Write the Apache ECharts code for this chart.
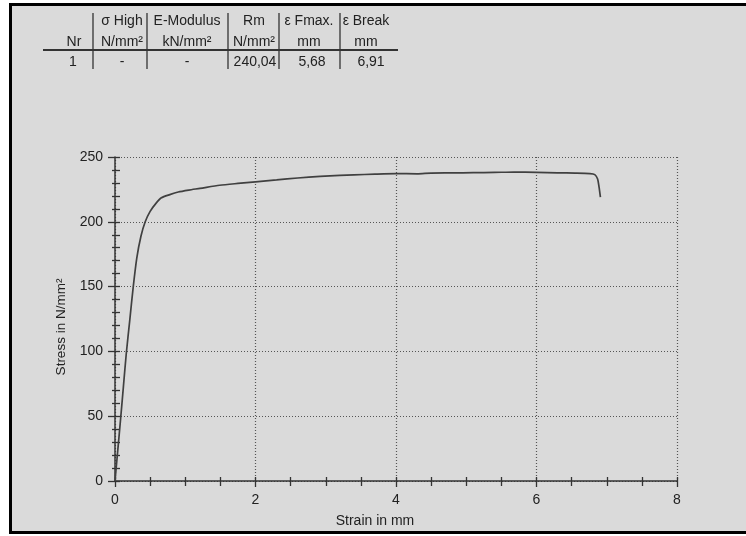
<!DOCTYPE html>
<html>
<head>
<meta charset="utf-8">
<script src="https://cdn.jsdelivr.net/npm/echarts@6/dist/echarts.min.js"></script>
<style>
  html, body { margin: 0; padding: 0; background: #ffffff; }
  #frame { position: absolute; left: 9px; top: 3px; width: 760px; height: 525px;
           border: 3px solid #000; border-right: none; background: #dadada; }
  #chart { position: absolute; left: 0; top: 0; width: 746px; height: 536px; }
</style>
</head>
<body>
<div id="frame"></div>
<div id="chart"></div>
<script>
// ---- data ----
const strain = [0, 0.04, 0.08, 0.12, 0.16, 0.21, 0.26, 0.31, 0.37, 0.43, 0.50, 0.58, 0.66, 0.78, 0.90,
  1.05, 1.21, 1.49, 1.75, 2.00, 2.30, 2.60, 2.92, 3.20, 3.40, 3.70, 4.00, 4.30, 4.50, 4.80,
  5.10, 5.40, 5.68, 6.00, 6.30, 6.55, 6.76, 6.83, 6.87, 6.89, 6.91];
const stress = [0, 24, 48, 73, 98, 124, 150, 172, 189, 200, 208, 214, 218.5, 221, 223,
  224.5, 225.8, 228.2, 229.6, 230.8, 232.3, 233.8, 235.0, 235.8, 236.2, 236.8, 237.2, 237.0, 237.6, 237.7,
  237.9, 238.1, 238.4, 238.2, 237.8, 237.6, 237.2, 236.4, 233, 227, 219];

const xTicks = [0, 2, 4, 6, 8];
const yTicks = [0, 50, 100, 150, 200, 250];

const tableHeader = ['', 'σ High', 'E-Modulus', 'Rm', 'ε Fmax.', 'ε Break'];
const tableUnits  = ['Nr', 'N/mm²', 'kN/mm²', 'N/mm²', 'mm', 'mm'];
const tableRow    = ['1', '-', '-', '240,04', '5,68', '6,91'];

// ---- layout (positions only) ----
const colX = [74, 122, 187, 254, 309, 366];
const rowValX = [73, 122, 187, 255, 312, 371];
const sepX = [93, 147, 228, 279, 340];

const txtColor = '#222';
const font = '14px "Liberation Sans", Arial, sans-serif';

const graphic = [];
tableHeader.forEach((t, i) => {
  if (t) graphic.push({ type: 'text', style: { text: t, x: colX[i], y: 21, align: 'center', verticalAlign: 'middle', font, fill: txtColor } });
});
tableUnits.forEach((t, i) => {
  graphic.push({ type: 'text', style: { text: t, x: colX[i], y: 42, align: 'center', verticalAlign: 'middle', font, fill: txtColor } });
});
tableRow.forEach((t, i) => {
  graphic.push({ type: 'text', style: { text: t, x: rowValX[i], y: 62, align: 'center', verticalAlign: 'middle', font, fill: txtColor } });
});
sepX.forEach(x => {
  graphic.push({ type: 'line', shape: { x1: x, y1: 13, x2: x, y2: 69 }, style: { stroke: '#333', lineWidth: 1.3 } });
});
graphic.push({ type: 'line', shape: { x1: 43, y1: 50, x2: 398, y2: 50 }, style: { stroke: '#333', lineWidth: 2 } });

const axisLabelStyle = { color: txtColor, fontSize: 14, fontFamily: '"Liberation Sans", Arial, sans-serif' };

const chart = echarts.init(document.getElementById('chart'), null, { renderer: 'canvas' });
chart.setOption({
  animation: false,
  backgroundColor: 'transparent',
  graphic,
  grid: { left: 115, top: 157, width: 562, height: 324, containLabel: false },
  xAxis: [{
    type: 'value', min: xTicks[0], max: xTicks[xTicks.length - 1], interval: 2,
    position: 'bottom',
    name: 'Strain in mm', nameLocation: 'middle', nameGap: 33,
    nameTextStyle: { color: txtColor, fontSize: 14, fontFamily: '"Liberation Sans", Arial, sans-serif', padding: [0, 42, 0, 0] },
    axisLine: { show: true, lineStyle: { color: '#333', width: 1.5 } },
    axisTick: { show: true, length: 6, lineStyle: { color: '#333', width: 1.3 } },
    minorTick: { show: true, splitNumber: 4, length: 5, lineStyle: { color: '#333', width: 1.3 } },
    axisLabel: Object.assign({ margin: 12 }, axisLabelStyle),
    splitLine: { show: true, lineStyle: { color: '#555', type: [1, 2], width: 1.2 } }
  }, {
    type: 'value', min: xTicks[0], max: xTicks[xTicks.length - 1], interval: 2,
    position: 'bottom',
    axisLine: { show: false },
    axisTick: { show: true, inside: true, length: 4, lineStyle: { color: '#333', width: 1.3 } },
    minorTick: { show: true, splitNumber: 4, length: 4, lineStyle: { color: '#333', width: 1.3 } },
    axisLabel: { show: false },
    splitLine: { show: false }
  }],
  yAxis: [{
    type: 'value', min: yTicks[0], max: yTicks[yTicks.length - 1], interval: 50,
    position: 'left',
    name: 'Stress in N/mm²', nameLocation: 'middle', nameGap: 40, nameRotate: 90,
    nameTextStyle: { color: txtColor, fontSize: 13.5, fontFamily: '"Liberation Sans", Arial, sans-serif', padding: [0, 16, 0, 0] },
    axisLine: { show: true, lineStyle: { color: '#333', width: 1.5 } },
    axisTick: { show: true, length: 7, lineStyle: { color: '#333', width: 1.3 } },
    minorTick: { show: true, splitNumber: 5, length: 3, lineStyle: { color: '#333', width: 1.3 } },
    axisLabel: Object.assign({ margin: 12 }, axisLabelStyle),
    splitLine: { show: true, lineStyle: { color: '#555', type: [1, 2], width: 1.2 } }
  }, {
    type: 'value', min: yTicks[0], max: yTicks[yTicks.length - 1], interval: 50,
    position: 'left',
    axisLine: { show: false },
    axisTick: { show: true, inside: true, length: 5, lineStyle: { color: '#333', width: 1.3 } },
    minorTick: { show: true, splitNumber: 5, length: 5, lineStyle: { color: '#333', width: 1.3 } },
    axisLabel: { show: false },
    splitLine: { show: false }
  }],
  series: [{
    type: 'line',
    xAxisIndex: 0, yAxisIndex: 0,
    data: strain.map((s, i) => [s, stress[i]]),
    smooth: 0.25,
    showSymbol: false,
    lineStyle: { color: '#404040', width: 1.7 }
  }]
});
</script>
</body>
</html>
